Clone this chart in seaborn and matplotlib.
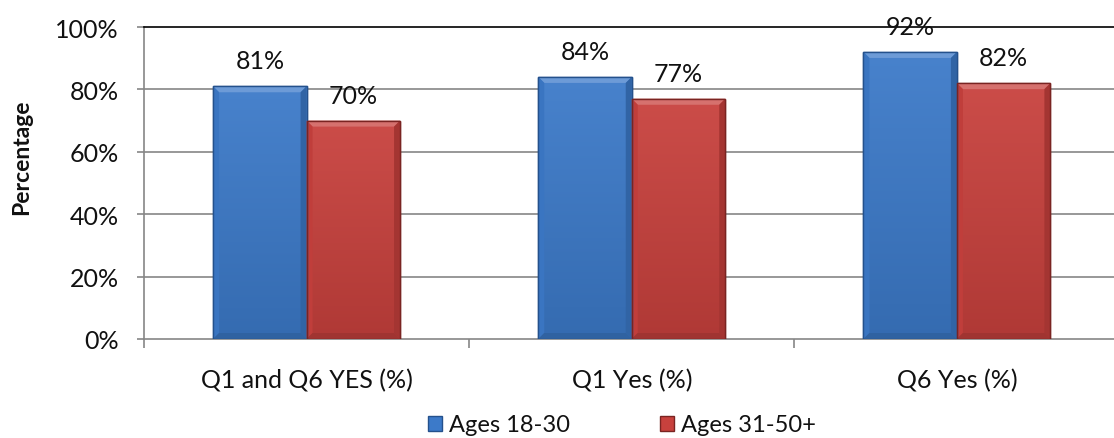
import matplotlib
matplotlib.use("Agg")
import matplotlib.pyplot as plt
from matplotlib.patches import Polygon
import matplotlib.colors as mcolors
import numpy as np
import pandas as pd
import seaborn as sns

categories = ["Q1 and Q6 YES (%)", "Q1 Yes (%)", "Q6 Yes (%)"]
ages_18_30 = [81, 84, 92]
ages_31_50 = [70, 77, 82]
series_names = ["Ages 18-30", "Ages 31-50+"]
y_ticks = [0, 20, 40, 60, 80, 100]

df = pd.DataFrame({
    "category": categories * 2,
    "value": ages_18_30 + ages_31_50,
    "group": [series_names[0]] * 3 + [series_names[1]] * 3,
})

sns.set_theme(style="white")
plt.rcParams["font.family"] = ["Lato", "DejaVu Sans"]

fig = plt.figure(figsize=(11.14, 4.39), dpi=100)
W, H = 1114, 439
ax = fig.add_axes([144 / W, 99 / H, (1119.5 - 144) / W, 312 / H])

palette = {series_names[0]: "#3C7AC9", series_names[1]: "#C8413D"}
edges = {series_names[0]: "#24518C", series_names[1]: "#7A2422"}

sns.barplot(data=df, x="category", y="value", hue="group", order=categories,
            hue_order=series_names, palette=palette, width=0.575,
            saturation=1, ax=ax, legend=True, zorder=3)

ax.set_ylim(0, 100)
ax.set_xlim(-0.5, 2.5)

# pixel size in data units, for the bevel edges of each bar
px_x = 3.0 / (1119.5 - 144)
px_y = 100.0 / 312


def shade(color, f):
    r, g, b = mcolors.to_rgb(color)
    if f >= 0:
        return (r + (1 - r) * f, g + (1 - g) * f, b + (1 - b) * f)
    return (r * (1 + f), g * (1 + f), b * (1 + f))


for cont, name in zip(ax.containers, series_names):
    base = palette[name]
    for p in cont.patches:
        p.set_edgecolor(edges[name])
        p.set_linewidth(1.0)
        x, y, w, h = p.get_x(), p.get_y(), p.get_width(), p.get_height()
        # vertical shading: lighter at the top, darker toward the base
        grad = np.linspace(0.0, 1.0, 64).reshape(-1, 1)
        top_c = np.array(shade(base, 0.06))
        bot_c = np.array(shade(base, -0.12))
        img = top_c * (1 - grad[..., None]) + bot_c * grad[..., None]
        im = ax.imshow(img, extent=[x, x + w, y, y + h], origin="upper",
                       aspect="auto", zorder=3.1, interpolation="bilinear")
        im.set_clip_path(p)
        dx, dy = 6 * px_x, 6 * px_y
        top = Polygon([(x, y + h), (x + w, y + h), (x + w - dx, y + h - dy), (x + dx, y + h - dy)],
                      closed=True, facecolor=shade(base, 0.25), edgecolor="none", zorder=3.2)
        left = Polygon([(x, y + h), (x + dx, y + h - dy), (x + dx, y + dy), (x, y)],
                       closed=True, facecolor=shade(base, -0.04), edgecolor="none", zorder=3.2)
        right = Polygon([(x + w, y + h), (x + w - dx, y + h - dy), (x + w - dx, y + dy), (x + w, y)],
                        closed=True, facecolor=shade(base, -0.18), edgecolor="none", zorder=3.2)
        bottom = Polygon([(x, y), (x + dx, y + dy), (x + w - dx, y + dy), (x + w, y)],
                         closed=True, facecolor=shade(base, -0.2), edgecolor="none", zorder=3.2)
        for poly in (top, left, right, bottom):
            ax.add_patch(poly)
        outline = Polygon([(x, y), (x, y + h), (x + w, y + h), (x + w, y)], closed=True,
                          facecolor="none", edgecolor=edges[name], linewidth=1.0, zorder=3.3)
        ax.add_patch(outline)
    ax.bar_label(cont, labels=[f"{int(v)}%" for v in cont.datavalues],
                 padding=10, fontsize=18, color="#111111")

ax.set_yticks(y_ticks)
ax.set_yticklabels([f"{t}%" for t in y_ticks], fontsize=18, color="#111111")
ax.tick_params(axis="y", length=5, width=1.2, color="#868686", left=True, pad=13)
ax.tick_params(axis="x", which="major", length=0, pad=21, labelsize=18, labelcolor="#111111")
ax.set_xticks([-0.5, 0.5, 1.5, 2.5], minor=True)
ax.tick_params(axis="x", which="minor", length=6.5, width=1.2, color="#868686", bottom=True)

for t in y_ticks[1:-1]:
    ax.axhline(t, color="#868686", lw=1.2, zorder=1)

for side in ["left", "bottom"]:
    ax.spines[side].set_color("#868686")
    ax.spines[side].set_linewidth(1.2)
ax.spines["top"].set_color("#000000")
ax.spines["top"].set_linewidth(1.2)
ax.spines["right"].set_visible(False)
ax.set_xlabel("")
ax.set_ylabel("")

fig.text(22 / W, 1 - 157 / H, "Percentage", rotation=90, ha="center", va="center",
         fontsize=16.5, fontweight="bold", color="#111111")

handles, labels = ax.get_legend_handles_labels()
ax.get_legend().remove()
for hdl, name in zip(handles, series_names):
    hdl.set_edgecolor(edges[name])
fig.legend(handles, labels, loc="center", bbox_to_anchor=(622 / W, 1 - 426 / H),
           ncol=2, frameon=False, fontsize=17, handlelength=0.6, handleheight=0.6,
           handletextpad=0.3, columnspacing=3.8, labelcolor="#111111")

fig.savefig("out.png", dpi=100)
